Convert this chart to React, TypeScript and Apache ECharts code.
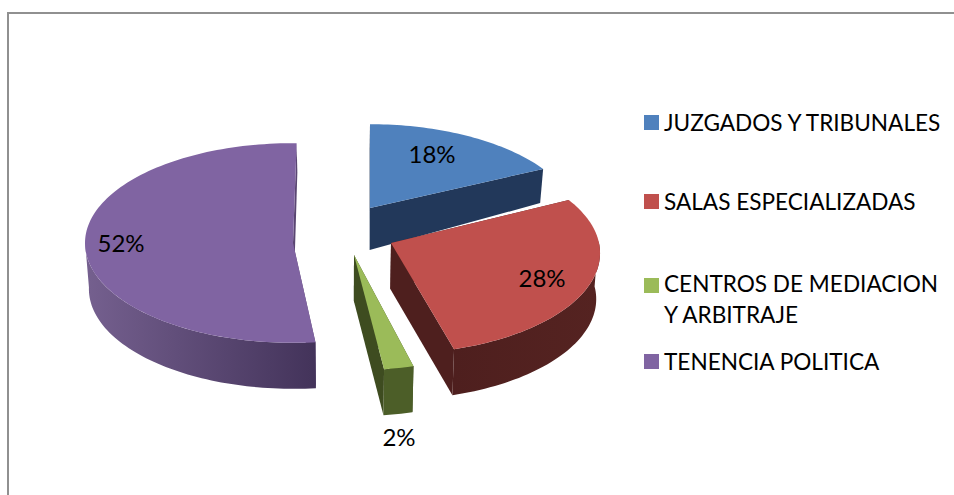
import React, { useEffect, useRef } from "react";
import * as echarts from "echarts";

const categories = [
  "JUZGADOS Y TRIBUNALES",
  "SALAS ESPECIALIZADAS",
  "CENTROS DE MEDIACION\nY ARBITRAJE",
  "TENENCIA POLITICA",
];
const shares = [18, 28, 2, 52];

// Presentation only
const topColors = ["#4F81BD", "#C0504D", "#9BBB59", "#8064A2"];
const radialWallColors = ["#22385A", "#4E1F1E", "#3E4C20", "#5A4672"];
const outerWallStops = [
  ["#22385A", "#22385A"],
  ["#4E1F1E", "#552321"],
  ["#4C5E28", "#4C5E28"],
  ["#75608F", "#43335A"],
];
const apexes = [[370, 208], [391, 243], [354, 255], [293, 243]];
const radii = [206, 208, 216, 208];
const perspectives = [0.18, 0.1, 0.1, 0];
const rotations = [0, -1.5, 0, 1];
const labelPositions = [[432, 153], [542, 277], [121, 242], [399, 436]];
const labelOrder = [0, 1, 3, 2];
const legendTops = [102, 181, 263, 341];

const TILT = 0.48;
const VANISH_X = 345;
const FONT = "Lato";

const startAngles = shares.map((_, i) =>
  shares.slice(0, i).reduce((a, b) => a + b, 0) * 3.6
);

function point(i: number, deg: number) {
  const a = ((deg + rotations[i]) * Math.PI) / 180;
  const s = 1 / (1 + perspectives[i] * Math.cos(a));
  return [
    apexes[i][0] + radii[i] * Math.sin(a) * s,
    apexes[i][1] - radii[i] * TILT * Math.cos(a) * s,
  ];
}
function drop(p: number[]) {
  const d = Math.min(46, 42 + (p[1] - 208) * 0.2);
  return [VANISH_X + (p[0] - VANISH_X) * 0.985, p[1] + d];
}
function arc(i: number, from: number, to: number) {
  const out: number[][] = [];
  const n = Math.max(2, Math.ceil(Math.abs(to - from) / 1.5));
  for (let k = 0; k <= n; k++) out.push(point(i, from + ((to - from) * k) / n));
  return out;
}

function makeRenderItem(i: number) {
  return (_: any, api: any) => {
    const from = startAngles[i];
    const to = from + api.value(0) * 3.6;
    const apex = apexes[i];
    const children: any[] = [];
    [from, to].forEach((deg) => {
      const p = point(i, deg);
      children.push({
        type: "polygon",
        shape: { points: [apex, p, drop(p), drop(apex)] },
        style: { fill: radialWallColors[i] },
      });
    });
    const wFrom = Math.max(from, 90);
    const wTo = Math.min(to, 270);
    if (wTo > wFrom) {
      const rim = arc(i, wFrom, wTo);
      children.push({
        type: "polygon",
        shape: { points: [...rim, ...rim.slice().reverse().map(drop)] },
        style: {
          fill: new echarts.graphic.LinearGradient(0, 0, 1, 0, [
            { offset: 0, color: outerWallStops[i][0] },
            { offset: 1, color: outerWallStops[i][1] },
          ]),
        },
      });
    }
    children.push({
      type: "polygon",
      shape: { points: [apex, ...arc(i, from, to)] },
      style: { fill: topColors[i] },
    });
    return { type: "group", children };
  };
}

export default function App() {
  const ref = useRef<HTMLDivElement>(null);
  useEffect(() => {
    const chart = echarts.init(ref.current!, undefined, { renderer: "svg" });
    chart.setOption({
      animation: false,
      backgroundColor: "#ffffff",
      legend: categories.map((name, i) => ({
        data: [name],
        orient: "vertical",
        left: 639,
        top: legendTops[i],
        itemWidth: 15,
        itemHeight: i === 2 ? 58 : 15,
        icon: i === 2 ? "path://M0 8H15V23H0Z M0 0H0Z M0 58H0Z" : "rect",
        selectedMode: false,
        textStyle: {
          fontFamily: FONT,
          fontSize: 22.6,
          color: "#000000",
          lineHeight: 31,
        },
      })),
      graphic: [
        { type: "line", shape: { x1: 8, y1: 13, x2: 954, y2: 13 }, style: { stroke: "#909090", lineWidth: 2 } },
        { type: "line", shape: { x1: 8, y1: 12, x2: 8, y2: 495 }, style: { stroke: "#909090", lineWidth: 2 } },
        ...labelOrder.map((s, k) => ({
          type: "text",
          z: 10,
          x: labelPositions[k][0],
          y: labelPositions[k][1],
          style: {
            text: shares[s] + "%",
            fontFamily: FONT,
            fontSize: 24,
            fill: "#000000",
            align: "center",
            verticalAlign: "middle",
          },
        })),
      ],
      series: categories.map((name, i) => ({
        type: "custom",
        name,
        coordinateSystem: "none",
        silent: true,
        itemStyle: { color: topColors[i] },
        data: [[shares[i]]],
        renderItem: makeRenderItem(i),
      })),
    });
    return () => chart.dispose();
  }, []);
  return (
    <div
      ref={ref}
      style={{ position: "fixed", left: 0, top: 0, width: 954, height: 495 }}
    />
  );
}
